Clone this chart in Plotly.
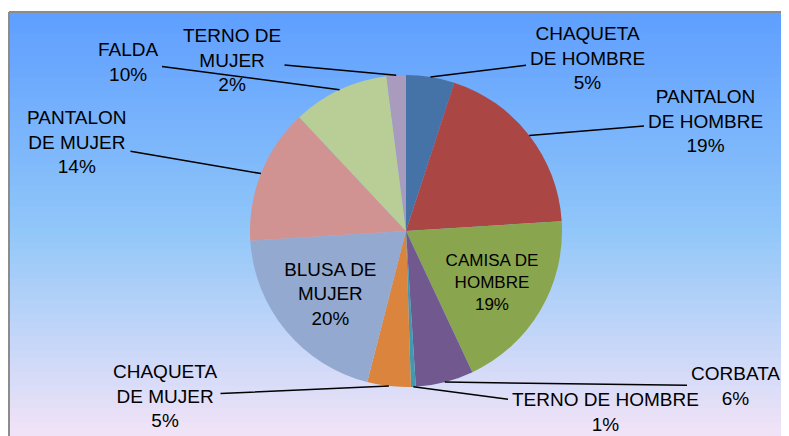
import math
import plotly.graph_objects as go

# ---- data ----
categories = ["CHAQUETA DE HOMBRE", "PANTALON DE HOMBRE", "CAMISA DE HOMBRE",
              "CORBATA", "TERNO DE HOMBRE", "CHAQUETA DE MUJER",
              "BLUSA DE MUJER", "PANTALON DE MUJER", "FALDA", "TERNO DE MUJER"]
display_labels = ["CHAQUETA<br>DE HOMBRE", "PANTALON<br>DE HOMBRE", "CAMISA DE<br>HOMBRE",
                  "CORBATA", "TERNO DE HOMBRE", "CHAQUETA<br>DE MUJER",
                  "BLUSA DE<br>MUJER", "PANTALON<br>DE MUJER", "FALDA", "TERNO DE<br>MUJER"]
values = [5, 19, 19, 6, 0.5, 4.5, 20, 14, 10, 2]
colors = ["#4572A7", "#AA4643", "#89A54E", "#71588F", "#4198AF",
          "#DB843D", "#93A9CF", "#D19392", "#B9CD96", "#A99BBD"]
inside = [False, False, True, False, False, False, True, False, False, False]
# label centres for outside labels (window pixels)
label_pos = {0: (587, 58), 1: (705, 121), 3: (735, 386), 4: (605, 412),
             5: (165, 396), 7: (77, 142), 8: (128, 62), 9: (232, 60)}

FONT = "Liberation Sans, Arial, sans-serif"
FS = 19

# ---- geometry (figure pixels) ----
W, H = 789, 436
ML, MT = 1, 4
PW, PH = W - ML, H - MT
OFF = 8                       # page offset of the figure in the window
CX, CY, R = 406 - OFF, 231 - OFF, 156

def to_paper(fx, fy):
    return (fx - ML) / PW, 1 - (fy - MT) / PH

pcx, pcy = to_paper(CX, CY)
dom_x = [pcx - 0.4, pcx + 0.4]
dom_y = [pcy - R / PH, pcy + R / PH]

total = sum(values)
texttemplates = ["%{customdata}<br>%{percent:.0%}" if f else "" for f in inside]

fig = go.Figure()
fig.add_trace(go.Pie(
    labels=categories,
    values=values,
    customdata=display_labels,
    texttemplate=texttemplates,
    textposition="inside",
    insidetextorientation="horizontal",
    automargin=False,
    sort=False,
    direction="clockwise",
    rotation=0,
    marker=dict(colors=colors, line=dict(width=0)),
    insidetextfont=dict(family=FONT, size=FS, color="black"),
    domain=dict(x=dom_x, y=dom_y),
    showlegend=False,
    hoverinfo="label+percent",
))

# outside labels with leader lines, tips derived from slice angles
annotations = []
cum = 0.0
for i, v in enumerate(values):
    mid = (cum + v / 2) / total * 2 * math.pi
    cum += v
    if inside[i]:
        continue
    tx = CX + R * math.sin(mid)
    ty = CY - R * math.cos(mid)
    lx, ly = label_pos[i]
    lx, ly = lx - OFF, ly - OFF
    px, py = to_paper(tx, ty)
    pct = int(v / total * 100 + 0.5)
    annotations.append(dict(
        x=px, y=py, xref="paper", yref="paper",
        ax=lx - tx, ay=ly - ty, axref="pixel", ayref="pixel",
        text=f"{display_labels[i]}<br>{pct}%",
        showarrow=True, arrowhead=0, arrowwidth=1.5, arrowcolor="black",
        standoff=0, startstandoff=2,
        font=dict(family=FONT, size=FS, color="black"),
        align="center",
    ))

# vertical gradient background via bands
stops = [(0.0, (94, 158, 255)), (0.5, (144, 198, 249)), (1.0, (246, 229, 247))]
def col_at(t):
    for (t0, c0), (t1, c1) in zip(stops[:-1], stops[1:]):
        if t0 <= t <= t1:
            f = (t - t0) / (t1 - t0)
            return "rgb(%d,%d,%d)" % tuple(round(a + (b - a) * f) for a, b in zip(c0, c1))
    return "rgb(%d,%d,%d)" % stops[-1][1]

n = 60
shapes = []
for i in range(n):
    t = (i + 0.5) / n
    shapes.append(dict(type="rect", xref="paper", yref="paper", layer="below",
                       x0=0, x1=1.01, y0=1 - (i + 1) / n - 0.003, y1=1 - i / n,
                       fillcolor=col_at(t), line=dict(width=0)))
shapes.append(dict(type="line", xref="paper", yref="paper", x0=0, x1=1.01, y0=1, y1=1,
                   line=dict(color="#8C8C8C", width=2)))
shapes.append(dict(type="line", xref="paper", yref="paper", x0=0, x1=0, y0=-0.01, y1=1,
                   line=dict(color="#8C8C8C", width=2)))

fig.update_layout(
    width=W, height=H,
    margin=dict(l=ML, r=0, t=MT, b=0, autoexpand=False),
    paper_bgcolor="white",
    shapes=shapes,
    annotations=annotations,
    font=dict(family=FONT, size=FS, color="black"),
)

fig.write_html("out.html")
